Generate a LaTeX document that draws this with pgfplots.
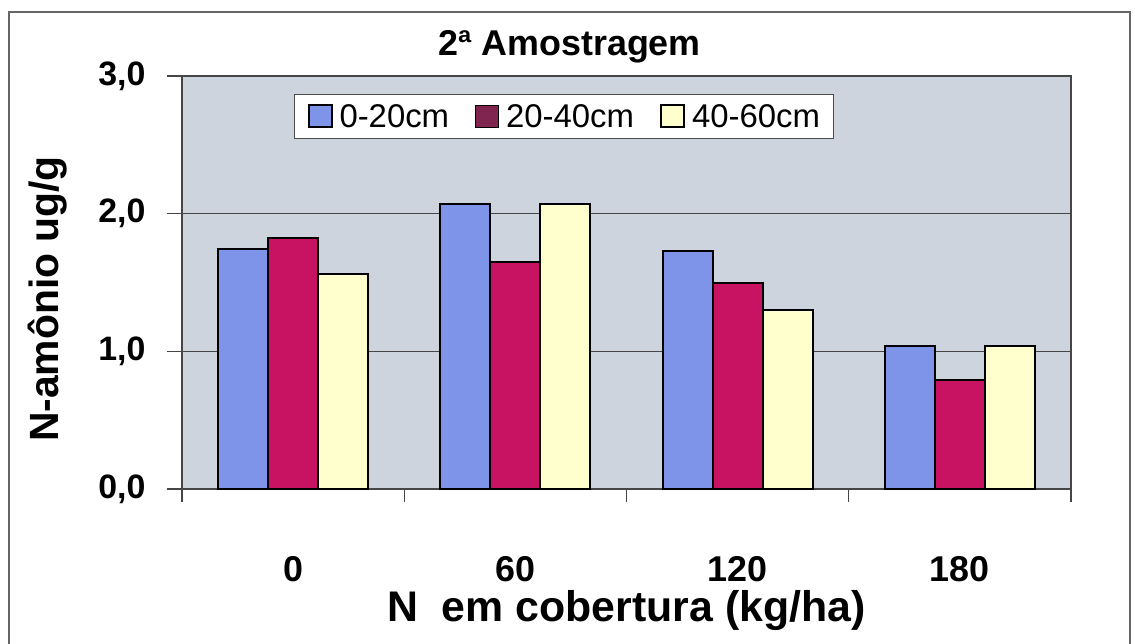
\documentclass[border=0pt]{standalone}
\usepackage{pgfplots}
\pgfplotsset{compat=1.18}
\usepackage{fontspec}
\setmainfont{Liberation Sans}
\usetikzlibrary{calc}

\definecolor{cblue}{RGB}{125,148,232}
\definecolor{cred}{RGB}{200,18,98}
\definecolor{credleg}{RGB}{128,36,80}
\definecolor{cyellow}{RGB}{255,255,206}
\definecolor{cbg}{RGB}{206,212,222}
\definecolor{cgrid}{RGB}{70,70,70}

\begin{document}
\begin{tikzpicture}
\begin{axis}[
  name=ax,
  scale only axis,
  width=889bp, height=413bp,
  ybar=0pt, bar width=50bp,
  xmin=-0.5, xmax=3.5,
  ymin=0, ymax=3,
  xtick={0,1,2,3},
  xticklabels={0,60,120,180},
  minor xtick={-0.5,0.5,1.5,2.5,3.5},
  ytick={0,1,2,3},
  yticklabels={{0,0},{1,0},{2,0},{3,0}},
  tick align=outside,
  tick pos=left,
  major x tick style={draw=none},
  minor tick length=13bp,
  major tick length=15bp,
  every tick/.style={line width=1.2bp, cgrid},
  axis line style={line width=1.2bp, cgrid},
  ymajorgrids,
  grid style={line width=1.2bp, cgrid},
  axis background/.style={fill=cbg},
  /pgf/number format/assume math mode=true,
  yticklabel style={font=\fontsize{34}{34}\selectfont\bfseries, anchor=east, xshift=-18bp},
  xticklabel style={font=\fontsize{36}{36}\selectfont\bfseries, anchor=base, yshift=-77bp},
  xlabel={N\ \ em cobertura (kg/ha)},
  xlabel style={font=\fontsize{43}{43}\selectfont\bfseries, at={(axis description cs:0.5,-0.294)}, anchor=center},
  ylabel={N-amônio ug/g},
  ylabel style={font=\fontsize{41}{41}\selectfont\bfseries, at={(axis description cs:-0.151,0.46)}, anchor=center, rotate=0},
  title={2ª Amostragem},
  title style={font=\fontsize{36}{36}\selectfont\bfseries, at={(axis description cs:0.436,1)}, anchor=base, yshift=15bp},
  legend style={at={(axis description cs:0.126,0.957)}, anchor=north west,
    legend columns=3, draw=black!70, line width=1bp, fill=white,
    font=\fontsize{33}{33}\selectfont,
    nodes={inner sep=1bp},
    inner xsep=13bp, inner ysep=9bp,
    /tikz/every odd column/.append style={column sep=6bp},
    /tikz/every even column/.append style={column sep=25bp}},
  legend image code/.code={\draw[#1] (0bp,-11bp) rectangle (23bp,11bp);},
]
% legend swatches
\addlegendimage{fill=cblue, draw=black, line width=2bp}
\addlegendentry{0-20cm}
\addlegendimage{fill=credleg, draw=none}
\addlegendentry{20-40cm}
\addlegendimage{fill=cyellow, draw=black, line width=2bp}
\addlegendentry{40-60cm}

% 0-20cm
\addplot[fill=cblue, draw=black, line width=2bp, bar shift=-50bp, forget plot]
  coordinates {(0,1.74) (1,2.07) (2,1.73) (3,1.04)};
% 20-40cm
\addplot[fill=cred, draw=black, line width=2bp, bar shift=0bp, forget plot]
  coordinates {(0,1.82) (1,1.65) (2,1.50) (3,0.79)};
% 40-60cm
\addplot[fill=cyellow, draw=black, line width=2bp, bar shift=50bp, forget plot]
  coordinates {(0,1.56) (1,2.07) (2,1.30) (3,1.04)};
\end{axis}
% outer chart frame
\draw[line width=1.2bp, black!60]
  ($(ax.south west)+(-173bp,-160bp)$) |- ($(ax.north east)+(59bp,64bp)$)
  -- ($(ax.south east)+(59bp,-160bp)$);
\pgfresetboundingbox
\useasboundingbox ($(ax.south west)+(-182bp,-154bp)$) rectangle ($(ax.north east)+(64bp,76bp)$);
\end{tikzpicture}
\end{document}
